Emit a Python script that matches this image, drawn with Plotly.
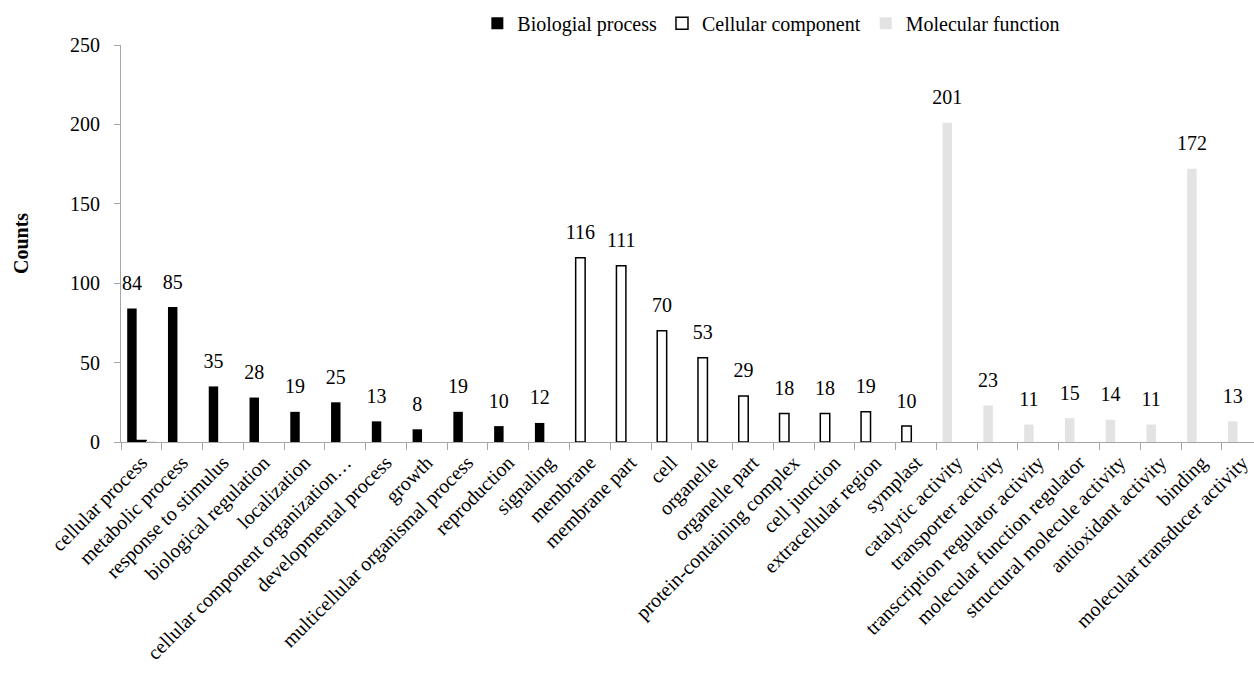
import plotly.graph_objects as go

# ---------------- data ----------------
bp_categories = ["cellular process", "metabolic process", "response to stimulus",
                 "biological regulation", "localization",
                 "cellular component organization…", "developmental process",
                 "growth", "multicellular organismal process", "reproduction",
                 "signaling"]
bp_values = [84, 85, 35, 28, 19, 25, 13, 8, 19, 10, 12]

cc_categories = ["membrane", "membrane part", "cell", "organelle", "organelle part",
                 "protein-containing complex", "cell junction",
                 "extracellular region", "symplast"]
cc_values = [116, 111, 70, 53, 29, 18, 18, 19, 10]

mf_categories = ["catalytic activity", "transporter activity",
                 "transcription regulator activity", "molecular function regulator",
                 "structural molecule activity", "antioxidant activity", "binding",
                 "molecular transducer activity"]
mf_values = [201, 23, 11, 15, 14, 11, 172, 13]

# tiny stub values of series 2 and 3 at the first category
stub_category = "cellular process"
cc_stub_value = 1
mf_stub_value = 0.6

series_names = ["Biologial process", "Cellular component", "Molecular function"]
y_ticks = [0, 50, 100, 150, 200, 250]

categories = bp_categories + cc_categories + mf_categories

# ---------------- styling ----------------
FONT = "'Liberation Serif', 'Times New Roman', Times, serif"
FS = 20
AXIS_GREY = "#a6a6a6"
GREY_FILL = "#e3e3e3"

slot_w = 0.232                 # width of each bar slot within a cluster
left_off = -1.5 * slot_w       # left slot offset from category centre
mid_off = left_off + slot_w
right_off = mid_off + slot_w
x_range = [-0.5, 27.29]

fig = go.Figure()

fig.add_trace(go.Bar(
    name=series_names[0], x=bp_categories, y=bp_values,
    offset=left_off, width=slot_w,
    marker=dict(color="black", line=dict(color="black", width=0)),
))
fig.add_trace(go.Bar(
    name=series_names[1], x=[stub_category] + cc_categories,
    y=[cc_stub_value] + cc_values,
    offset=[mid_off] + [left_off] * len(cc_categories), width=slot_w,
    marker=dict(color="white", line=dict(color="black", width=1.5)),
))
fig.add_trace(go.Bar(
    name=series_names[2], x=[stub_category] + mf_categories,
    y=[mf_stub_value] + mf_values,
    offset=[right_off] + [left_off] * len(mf_categories), width=slot_w,
    marker=dict(color=GREY_FILL, line=dict(color=GREY_FILL, width=0)),
))

# data labels (centred on each bar) on an overlaid numeric axis
all_values = bp_values + cc_values + mf_values
label_x = [i + left_off + slot_w / 2 for i in range(len(categories))]
fig.add_trace(go.Scatter(
    x=label_x, y=all_values, xaxis="x2", mode="markers+text",
    text=[str(v) for v in all_values], textposition="top center",
    marker=dict(size=20, opacity=0),
    textfont=dict(family=FONT, size=FS, color="black"),
    showlegend=False, hoverinfo="skip", cliponaxis=False,
))

fig.update_layout(
    width=1254, height=689,
    margin=dict(l=121, r=0, t=45, b=247, autoexpand=False),
    paper_bgcolor="white", plot_bgcolor="white",
    font=dict(family=FONT, size=FS, color="black"),
    barmode="overlay",
    showlegend=True,
    legend=dict(orientation="h", x=0.574, xanchor="center", y=1.055,
                yanchor="middle", font=dict(family=FONT, size=20),
                itemwidth=30, bgcolor="rgba(0,0,0,0)"),
    xaxis=dict(type="category", categoryorder="array", categoryarray=categories,
               range=x_range, tickangle=-45, tickson="boundaries",
               ticks="outside", ticklen=7, tickcolor=AXIS_GREY,
               showline=True, linecolor=AXIS_GREY, linewidth=1,
               showgrid=False, zeroline=False, automargin=False,
               tickfont=dict(family=FONT, size=FS, color="black")),
    xaxis2=dict(overlaying="x", range=x_range, visible=False, showgrid=False,
                zeroline=False),
    yaxis=dict(range=[0, 250], tickvals=y_ticks, ticks="outside", ticklen=6,
               tickcolor=AXIS_GREY, showline=True, linecolor=AXIS_GREY,
               linewidth=1, showgrid=False, zeroline=False, automargin=False,
               ticklabelstandoff=10,
               tickfont=dict(family=FONT, size=FS, color="black"),
               title=dict(text="<b>Counts</b>", standoff=36,
                          font=dict(family=FONT, size=FS, color="black"))),
)

fig.write_html(
    "out.html",
    config={"displayModeBar": False},
    post_script="document.body.style.margin='0';document.body.style.overflow='hidden';",
)
